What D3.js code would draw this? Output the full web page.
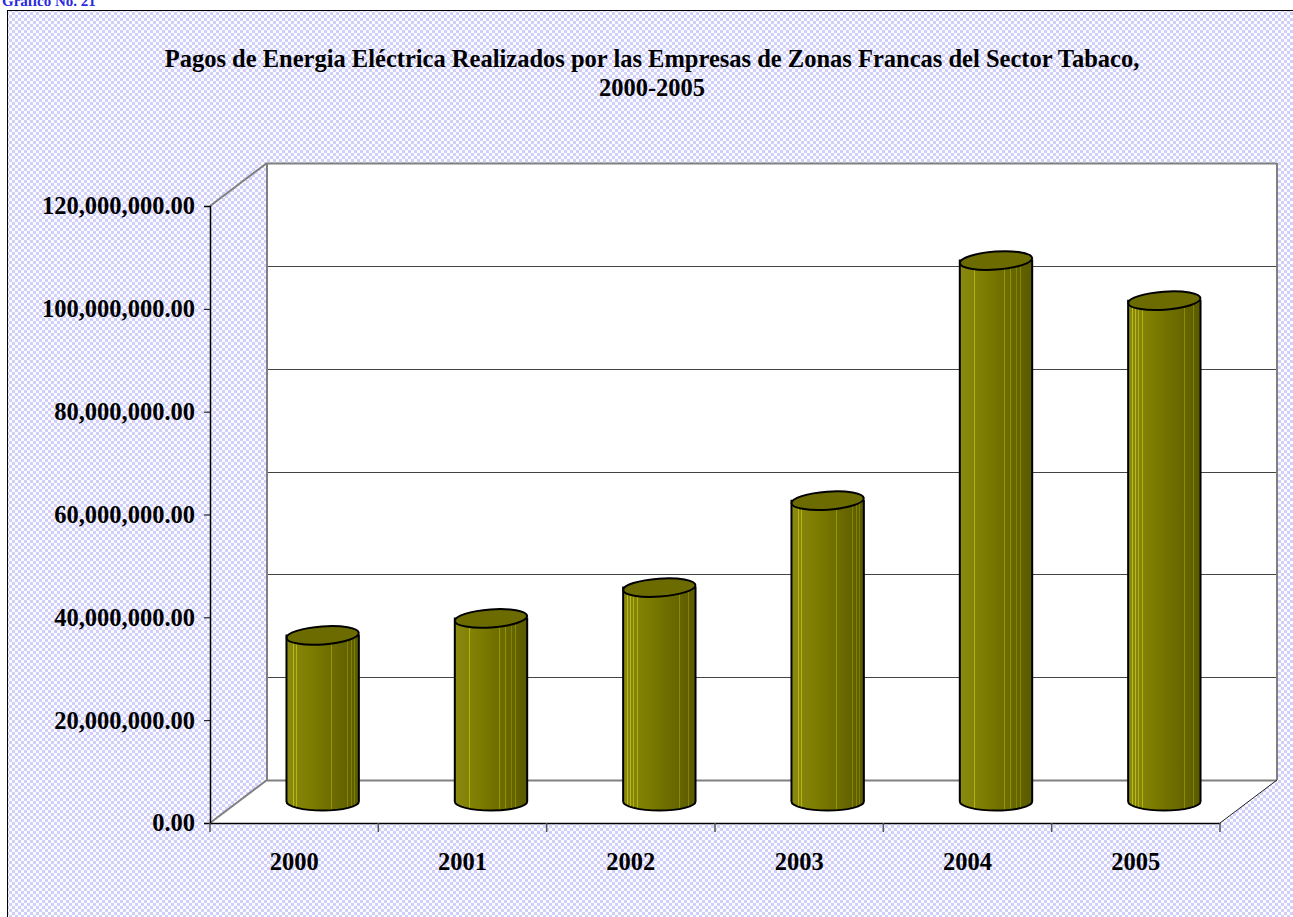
<!DOCTYPE html>
<html>
<head>
<meta charset="utf-8">
<script src="https://cdn.jsdelivr.net/npm/d3@7"></script>
<style>
  body { margin: 0; background: #fff; }
  svg { display: block; font-family: "Liberation Serif", "Times New Roman", serif; }
</style>
</head>
<body>
<div id="chart"></div>
<script>
// data
var years = ["2000", "2001", "2002", "2003", "2004", "2005"];
var pagos = [32300000, 35600000, 41600000, 58500000, 105200000, 97400000];
var yTicks = [0, 20000000, 40000000, 60000000, 80000000, 100000000, 120000000];
var titleLines = ["Pagos de Energia Eléctrica Realizados por las Empresas de Zonas Francas del Sector Tabaco,", "2000-2005"];

var W = 1293, H = 917;
// front plane and depth offset of the 3d box
var pLeft = 210, pRight = 1220, pBottom = 823, pTop = 206;
var dx = 57, dy = -43;

var svg = d3.select("#chart").append("svg")
    .attr("width", W)
    .attr("height", H);

var defs = svg.append("defs");

// checker pattern of the chart area
var pat = defs.append("pattern")
    .attr("id", "checker")
    .attr("width", 6).attr("height", 6)
    .attr("patternUnits", "userSpaceOnUse");
pat.append("rect").attr("width", 6).attr("height", 6).attr("fill", "#fcfcff");
pat.append("rect").attr("width", 3).attr("height", 3).attr("fill", "#cfcffa");
pat.append("rect").attr("x", 3).attr("y", 3).attr("width", 3).attr("height", 3).attr("fill", "#cfcffa");

// cylinder body: olive gradient with thin light stripes
var grad = defs.append("linearGradient").attr("id", "cyl").attr("x1", 0).attr("x2", 1);
var base = [[0, "#8a8a12"], [0.35, "#7c7c00"], [0.6, "#6e6e00"], [1, "#5a5a00"]];
var stripes = [0.06, 0.1, 0.14, 0.2, 0.62, 0.7, 0.78, 0.84, 0.9, 0.94];
var baseColor = d3.scaleLinear().domain(base.map(function(b) { return b[0]; }))
    .range(base.map(function(b) { return b[1]; }));
var stops = [];
base.forEach(function(b) { stops.push([b[0], b[1]]); });
stripes.forEach(function(s) {
  var c = d3.color(baseColor(s)).brighter(0.9).formatHex();
  stops.push([s - 0.004, baseColor(s - 0.004)]);
  stops.push([s - 0.003, c]);
  stops.push([s + 0.003, c]);
  stops.push([s + 0.004, baseColor(s + 0.004)]);
});
stops.sort(function(a, b) { return a[0] - b[0]; });
grad.selectAll("stop").data(stops).enter().append("stop")
    .attr("offset", function(d) { return d[0]; })
    .attr("stop-color", function(d) { return d[1]; });

// chart area frame
svg.append("rect")
    .attr("x", 7.5).attr("y", 10.5)
    .attr("width", W + 10).attr("height", H)
    .attr("fill", "url(#checker)")
    .attr("stroke", "#000");

svg.append("text")
    .attr("x", 2).attr("y", 6)
    .attr("fill", "#2a2ae0")
    .attr("font-size", 15).attr("font-weight", "bold")
    .text("Grafico No. 21");

// title
svg.append("g").selectAll("text").data(titleLines).enter().append("text")
    .attr("x", 652)
    .attr("y", function(d, i) { return 67 + i * 29; })
    .attr("text-anchor", "middle")
    .attr("font-size", 24.5).attr("font-weight", "bold")
    .text(function(d) { return d; });

var x = d3.scaleBand().domain(years).range([pLeft, pRight]);
var y = d3.scaleLinear().domain([0, 120000000]).range([pBottom, pTop]);

// back wall and floor
svg.append("rect")
    .attr("x", pLeft + dx).attr("y", pTop + dy)
    .attr("width", pRight - pLeft).attr("height", pBottom - pTop)
    .attr("fill", "#fff");
svg.append("path")
    .attr("d", "M" + pLeft + "," + pBottom + "L" + pRight + "," + pBottom + "L" + (pRight + dx) + "," + (pBottom + dy) + "L" + (pLeft + dx) + "," + (pBottom + dy) + "Z")
    .attr("fill", "#fff");

// gridlines on back wall
svg.append("g").selectAll("line").data(yTicks).enter().append("line")
    .attr("x1", pLeft + dx).attr("x2", pRight + dx)
    .attr("y1", function(d) { return Math.round(y(d) + dy) + 0.5; })
    .attr("y2", function(d) { return Math.round(y(d) + dy) + 0.5; })
    .attr("stroke", function(d) { return d === 0 || d === 120000000 ? "#808080" : "#444"; })
    .attr("stroke-width", function(d) { return d === 0 || d === 120000000 ? 2 : 1; });

var edge = svg.append("g").attr("fill", "none").attr("stroke", "#808080").attr("stroke-width", 2);
edge.append("line").attr("x1", pLeft + dx).attr("x2", pLeft + dx).attr("y1", pTop + dy).attr("y2", pBottom + dy);
edge.append("line").attr("x1", pRight + dx).attr("x2", pRight + dx).attr("y1", pTop + dy).attr("y2", pBottom + dy);
edge.append("line").attr("x1", pLeft).attr("y1", pTop).attr("x2", pLeft + dx).attr("y2", pTop + dy);
edge.append("line").attr("x1", pLeft).attr("y1", pBottom).attr("x2", pLeft + dx).attr("y2", pBottom + dy);
svg.append("line")
    .attr("x1", pRight).attr("y1", pBottom).attr("x2", pRight + dx).attr("y2", pBottom + dy)
    .attr("stroke", "#222").attr("stroke-width", 1);

// cylinders
var bw = x.bandwidth(), cw = bw * 0.43, rx = cw / 2, ry = 9;
var cyl = svg.append("g").selectAll("g").data(years).enter().append("g")
    .attr("transform", function(d) { return "translate(" + (x(d) + bw / 2 + dx / 2) + ",0)"; });
cyl.append("path")
    .attr("d", function(d, i) {
      var yt = y(pagos[i]) + dy / 2, yb = y(0) + dy / 2;
      return "M" + (-rx) + "," + yt + "L" + (-rx) + "," + yb +
        "A" + rx + "," + ry + " 0 0 0 " + rx + "," + yb +
        "L" + rx + "," + yt + "Z";
    })
    .attr("fill", "url(#cyl)")
    .attr("stroke", "#000").attr("stroke-width", 2);
cyl.append("ellipse")
    .attr("cx", 0)
    .attr("cy", function(d, i) { return y(pagos[i]) + dy / 2; })
    .attr("rx", rx).attr("ry", ry)
    .attr("transform", function(d, i) { return "rotate(-4,0," + (y(pagos[i]) + dy / 2) + ")"; })
    .attr("fill", "#6b6b00")
    .attr("stroke", "#000").attr("stroke-width", 2);

// y axis
var yAxis = svg.append("g")
    .attr("transform", "translate(" + pLeft + ",0)")
    .call(d3.axisLeft(y).tickValues(yTicks).tickSize(6).tickPadding(9)
      .tickFormat(d3.format(",.2f")));
yAxis.select(".domain").attr("stroke", "#000").attr("stroke-width", 1.5);
yAxis.selectAll("text")
    .attr("font-family", "Liberation Serif")
    .attr("font-size", 24.5).attr("font-weight", "bold").attr("fill", "#000");

// x axis
var xAxis = svg.append("g")
    .attr("transform", "translate(0," + pBottom + ")")
    .call(d3.axisBottom(x).tickSize(0).tickPadding(30));
xAxis.select(".domain").attr("stroke", "#000").attr("stroke-width", 1.5);
xAxis.selectAll("text")
    .attr("font-family", "Liberation Serif")
    .attr("font-size", 24.5).attr("font-weight", "bold").attr("fill", "#000");
svg.append("g").selectAll("line").data(years.concat(["end"])).enter().append("line")
    .attr("x1", function(d) { return d === "end" ? pRight : x(d); })
    .attr("x2", function(d) { return d === "end" ? pRight : x(d); })
    .attr("y1", pBottom).attr("y2", pBottom + 9)
    .attr("stroke", "#555").attr("stroke-width", 1.5);
</script>
</body>
</html>
